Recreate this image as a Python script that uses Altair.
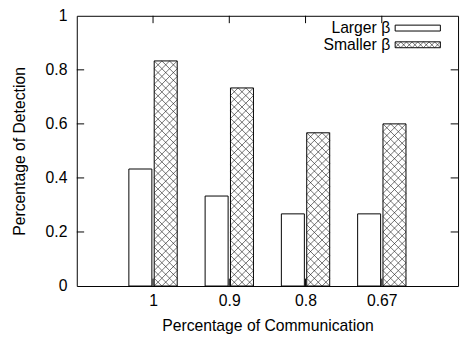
import altair as alt
import pandas as pd

# ---- data ----
categories = ["1", "0.9", "0.8", "0.67"]
larger = [0.433, 0.333, 0.267, 0.267]
smaller = [0.833, 0.733, 0.567, 0.600]
series = ["Larger β", "Smaller β"]
y_ticks = [0, 0.2, 0.4, 0.6, 0.8, 1]

# ---- layout helpers ----
W, H = 388, 275
XMAX = len(categories) + 1
PX_X = W / XMAX
PX_Y = H / 1.0


def dx(px):
    return px / PX_X


def dy(px):
    return px / PX_Y


FONT = "Liberation Sans"
FS = 16

gap = dx(1.2)
bw = dx(23.4)
cell_px = 23.4 / 3
cell = bw / 3

bars, hatch = [], []
for i, (a, b) in enumerate(zip(larger, smaller), start=1):
    bars.append(dict(x=i - gap - bw, x2=i - gap, y=0, y2=a, s=series[0]))
    bars.append(dict(x=i + gap, x2=i + gap + bw, y=0, y2=b, s=series[1]))
    n = max(1, round(b / dy(cell_px)))
    step = b / n
    for r in range(n):
        for c in range(3):
            hatch.append(dict(x=i + gap + cell * (c + 0.5), y=step * (r + 0.5)))
bars_df = pd.DataFrame(bars)
hatch_df = pd.DataFrame(hatch)

# tick marks drawn inward (gnuplot style), mirrored
tl = 7.5
ticks = []
for v in y_ticks[1:-1]:
    ticks.append(dict(x=0, x2=dx(tl), y=v, y2=v))
    ticks.append(dict(x=XMAX - dx(tl), x2=XMAX, y=v, y2=v))
for i in range(1, len(categories) + 1):
    ticks.append(dict(x=i, x2=i, y=0, y2=dy(tl)))
    ticks.append(dict(x=i, x2=i, y=1 - dy(tl), y2=1))
ticks_df = pd.DataFrame(ticks)

# legend (inside, top right)
leg_text = pd.DataFrame([
    dict(x=dx(319), y=1 - dy(12.5), label=series[0]),
    dict(x=dx(319), y=1 - dy(29.5), label=series[1]),
])
leg_box = pd.DataFrame([
    dict(x=dx(324), x2=dx(370), y=1 - dy(15.5), y2=1 - dy(9.5)),
    dict(x=dx(324), x2=dx(370), y=1 - dy(32.5), y2=1 - dy(26.5)),
])
lcell = 46 / 8
leg_hatch = pd.DataFrame([
    dict(x=dx(324 + lcell * (k + 0.5)), y=1 - dy(29.5)) for k in range(8)
])

label_expr = "[" + ",".join("'%s'" % c for c in categories) + "][datum.value - 1]"

x_axis = alt.Axis(
    values=list(range(1, len(categories) + 1)), labelExpr=label_expr,
    title="Percentage of Communication", ticks=False, tickSize=0, domain=False,
    grid=False, labelPadding=15, labelBaseline="middle", labelFont=FONT,
    labelFontSize=FS, labelColor="black", titleFont=FONT, titleFontSize=FS,
    titleFontWeight="normal", titleColor="black", titleY=40,
    titleBaseline="middle",
)
y_axis = alt.Axis(
    values=y_ticks, format="~g", title="Percentage of Detection", ticks=False,
    tickSize=0, domain=False, grid=False, labelPadding=10, labelBaseline="middle",
    labelFont=FONT, labelFontSize=FS, labelColor="black", titleFont=FONT,
    titleFontSize=FS, titleFontWeight="normal", titleColor="black",
    titleX=-58, titleY=H / 2, titleBaseline="middle", titleAlign="center",
    titleAngle=270,
)
xs = alt.Scale(domain=[0, XMAX], nice=False, zero=False)
ys = alt.Scale(domain=[0, 1], nice=False, zero=False)


def X():
    return alt.X("x:Q", scale=xs, axis=x_axis)


def Y():
    return alt.Y("y:Q", scale=ys, axis=y_axis)


bar_layer = alt.Chart(bars_df).mark_rect(
    fill="white", stroke="black", strokeWidth=1
).encode(x=X(), x2="x2:Q", y=Y(), y2="y2:Q")

XSHAPE = "M-1,-1L1,1M-1,1L1,-1"
hatch_layer = alt.Chart(hatch_df).mark_point(
    shape=XSHAPE, filled=False, stroke="#111111", strokeWidth=0.6,
    size=cell_px ** 2, opacity=1
).encode(x=X(), y=Y())

tick_layer = alt.Chart(ticks_df).mark_rule(
    color="black", strokeWidth=1
).encode(x=X(), x2="x2:Q", y=Y(), y2="y2:Q")

leg_text_layer = alt.Chart(leg_text).mark_text(
    align="right", baseline="middle", font=FONT, fontSize=FS, color="black"
).encode(x=X(), y=Y(), text="label:N")

leg_box_layer = alt.Chart(leg_box).mark_rect(
    fill="white", stroke="black", strokeWidth=1
).encode(x=X(), x2="x2:Q", y=Y(), y2="y2:Q")

leg_hatch_layer = alt.Chart(leg_hatch).mark_point(
    shape=XSHAPE, filled=False, stroke="#111111", strokeWidth=0.6,
    size=lcell ** 2, opacity=1
).encode(x=X(), y=Y())

chart = alt.layer(
    bar_layer, hatch_layer, tick_layer, leg_text_layer, leg_box_layer,
    leg_hatch_layer
).properties(
    width=W, height=H,
    padding={"left": 70, "top": 5, "right": 3, "bottom": 52},
    autosize=alt.AutoSizeParams(type="none"),
    background="white",
).configure_view(
    stroke="black", strokeWidth=1
)

chart.save("out.html", embed_options={"renderer": "svg", "actions": False})
